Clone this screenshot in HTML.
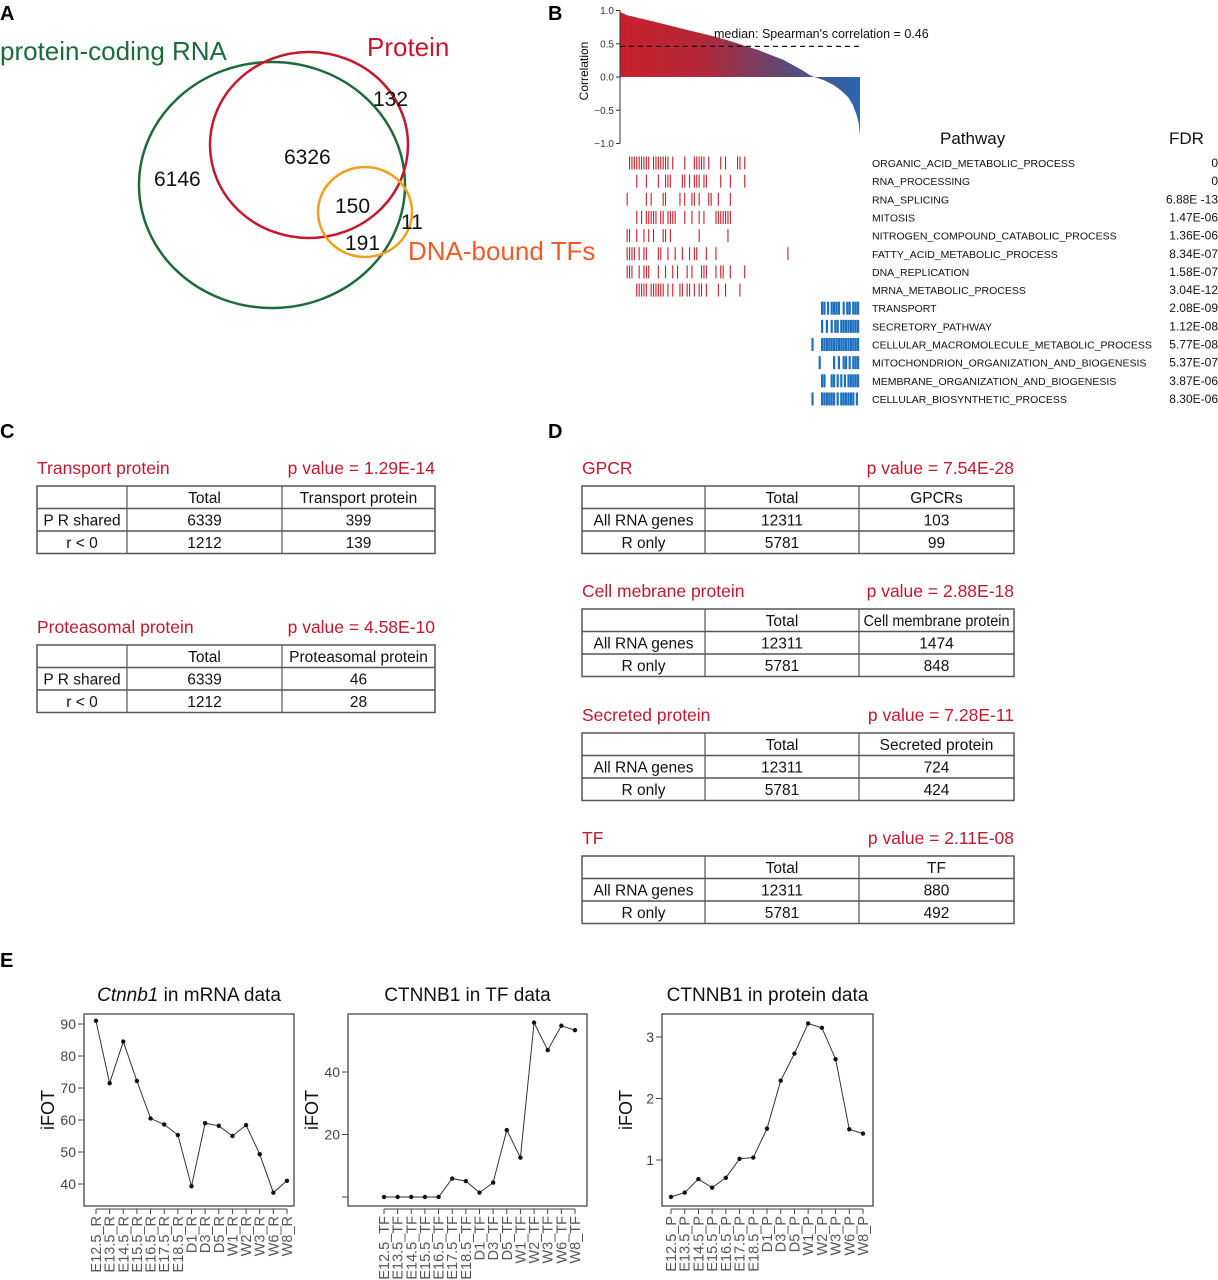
<!DOCTYPE html>
<html><head><meta charset="utf-8">
<style>
body{margin:0;background:#fff;}
svg{display:block;font-family:"Liberation Sans",sans-serif;}
</style></head>
<body>
<svg id="fig" width="1218" height="1280" viewBox="0 0 1218 1280" xmlns="http://www.w3.org/2000/svg">
<defs>
<linearGradient id="corrGrad" x1="620" y1="0" x2="860" y2="0" gradientUnits="userSpaceOnUse">
<stop offset="0" stop-color="#c8202a"/><stop offset="0.35" stop-color="#b2283a"/><stop offset="0.7" stop-color="#5a4a78"/><stop offset="1" stop-color="#2a66b0"/>
</linearGradient>
</defs>
<g font-weight="bold" font-size="20" fill="#000">
<text x="0" y="20">A</text>
<text x="548" y="20">B</text>
<text x="0" y="438">C</text>
<text x="548" y="438">D</text>
<text x="0" y="967">E</text>
</g>
<g fill="none" stroke-width="2.5">
<ellipse cx="272" cy="185" rx="133" ry="123" stroke="#1c6b3a"/>
<ellipse cx="309" cy="145" rx="99" ry="93" stroke="#c4182c"/>
<ellipse cx="365" cy="212" rx="47" ry="45" stroke="#eea01e"/>
</g>
<g font-size="26">
<text x="0" y="60" fill="#1c6b3a">protein-coding RNA</text>
<text x="367" y="56" fill="#c4182c">Protein</text>
<text x="408" y="260" fill="#ef5a28">DNA-bound TFs</text>
</g>
<g font-size="21" fill="#111">
<text x="373" y="106">132</text>
<text x="284" y="164">6326</text>
<text x="154" y="186">6146</text>
<text x="335" y="213">150</text>
<text x="345" y="250">191</text>
<text x="401" y="229">11</text>
</g>
<g id="panelB"></g>
<g id="tables"></g>
<g id="panelE"></g>
</svg>
<script>
const NS="http://www.w3.org/2000/svg";
function mk(parent,tag,attrs,text){const e=document.createElementNS(NS,tag);for(const k in attrs)e.setAttribute(k,attrs[k]);if(text!==undefined)e.textContent=text;parent.appendChild(e);return e;}

// ---------- Panel B ----------
const corrSorted=[0.98,0.93,0.86,0.78,0.7,0.62,0.55,0.47,0.4,0.33,0.26,0.18,0.1,0.03,0,-0.05,-0.12,-0.2,-0.3,-0.42,-0.56,-0.7,-0.88];
const corrPos=[0,0.03,0.11,0.2,0.29,0.38,0.45,0.52,0.58,0.63,0.68,0.72,0.76,0.79,0.81,0.85,0.89,0.92,0.95,0.97,0.985,0.995,1];
const pathways=["ORGANIC_ACID_METABOLIC_PROCESS","RNA_PROCESSING","RNA_SPLICING","MITOSIS","NITROGEN_COMPOUND_CATABOLIC_PROCESS","FATTY_ACID_METABOLIC_PROCESS","DNA_REPLICATION","MRNA_METABOLIC_PROCESS","TRANSPORT","SECRETORY_PATHWAY","CELLULAR_MACROMOLECULE_METABOLIC_PROCESS","MITOCHONDRION_ORGANIZATION_AND_BIOGENESIS","MEMBRANE_ORGANIZATION_AND_BIOGENESIS","CELLULAR_BIOSYNTHETIC_PROCESS"];
const fdrs=["0","0","6.88E -13","1.47E-06","1.36E-06","8.34E-07","1.58E-07","3.04E-12","2.08E-09","1.12E-08","5.77E-08","5.37E-07","3.87E-06","8.30E-06"];
const barcodeRanks=[
[0.04,0.05,0.06,0.07,0.08,0.09,0.1,0.11,0.12,0.14,0.15,0.16,0.17,0.18,0.19,0.2,0.22,0.27,0.31,0.32,0.33,0.34,0.35,0.37,0.42,0.44,0.49,0.5,0.52],
[0.07,0.11,0.16,0.19,0.2,0.21,0.26,0.27,0.29,0.31,0.32,0.33,0.35,0.36,0.42,0.46,0.52],
[0.03,0.11,0.13,0.18,0.19,0.25,0.27,0.3,0.31,0.33,0.37,0.38,0.41,0.46],
[0.07,0.09,0.11,0.12,0.13,0.14,0.15,0.17,0.18,0.2,0.21,0.22,0.23,0.27,0.3,0.33,0.35,0.4,0.41,0.42,0.43,0.44,0.45,0.46],
[0.03,0.04,0.07,0.1,0.12,0.14,0.18,0.19,0.21,0.33,0.45],
[0.03,0.04,0.05,0.06,0.08,0.1,0.11,0.16,0.17,0.2,0.23,0.26,0.29,0.31,0.32,0.36,0.4,0.7],
[0.03,0.04,0.05,0.08,0.1,0.11,0.12,0.16,0.19,0.22,0.24,0.28,0.3,0.34,0.35,0.36,0.4,0.42,0.43,0.46,0.52],
[0.07,0.08,0.09,0.1,0.11,0.13,0.14,0.15,0.16,0.17,0.18,0.2,0.22,0.25,0.26,0.28,0.29,0.31,0.33,0.34,0.36,0.41,0.44,0.5],
[0.84,0.85,0.865,0.88,0.89,0.9,0.91,0.93,0.945,0.955,0.97,0.98,0.99],
[0.84,0.86,0.88,0.895,0.905,0.92,0.93,0.94,0.95,0.96,0.97,0.98,0.99],
[0.8,0.84,0.85,0.86,0.87,0.88,0.89,0.9,0.91,0.92,0.93,0.94,0.95,0.96,0.97,0.98,0.99],
[0.83,0.89,0.91,0.93,0.94,0.955,0.97,0.98,0.99],
[0.84,0.85,0.88,0.89,0.905,0.92,0.935,0.95,0.96,0.97,0.98,0.99],
[0.8,0.84,0.85,0.86,0.87,0.88,0.89,0.905,0.92,0.93,0.94,0.95,0.96,0.97,0.985]
];
(function(){
const g=document.getElementById('panelB');
const x0=620,x1=860,yC=v=>77-v*66.5;
const xR=r=>x0+r*(x1-x0);
let d=`M${x0},${yC(0)}`;
corrSorted.forEach((v,i)=>{d+=` L${xR(corrPos[i]).toFixed(1)},${yC(v).toFixed(1)}`;});
d+=` L${x1},${yC(0)} Z`;
const area=mk(g,'path',{d:d,fill:'url(#corrGrad)'});


mk(g,'line',{x1:x0,y1:yC(1),x2:x0,y2:yC(-1),stroke:'#333','stroke-width':1});
[1,0.5,0,-0.5,-1].forEach(v=>{
 mk(g,'line',{x1:x0-4,y1:yC(v),x2:x0,y2:yC(v),stroke:'#333'});
 const t=mk(g,'text',{x:x0-6,y:yC(v)+3.5,'font-size':10,'text-anchor':'end',fill:'#333'},v.toFixed(1).replace('-','\u2212'));
 
 
});
const yl=mk(g,'text',{x:0,y:0,'font-size':12,'text-anchor':'middle',transform:`translate(588,${yC(0)-6}) rotate(-90)`},'Correlation');


const med=mk(g,'line',{x1:x0,y1:yC(0.46),x2:x1,y2:yC(0.46),stroke:'#111','stroke-dasharray':'5,4','stroke-width':1.2});


mk(g,'text',{x:714,y:38,'font-size':12.5,fill:'#111'},"median: Spearman's correlation = 0.46");
mk(g,'text',{x:940,y:144,'font-size':17,fill:'#111'},'Pathway');
mk(g,'text',{x:1169,y:144,'font-size':17,fill:'#111'},'FDR');
pathways.forEach((p,i)=>{
 const y=163+i*18.15;
 const t=mk(g,'text',{x:872,y:y+4,'font-size':10.5,fill:'#111'},p);
 
 
 const f=mk(g,'text',{x:1218,y:y+4,'font-size':12,fill:'#111','text-anchor':'end'},fdrs[i]);
 
 
 const col=i<8?'#c8202a':'#1f6fbf';
 barcodeRanks[i].forEach(r=>{
  const b=mk(g,'rect',{x:xR(r)-0.6,y:y-6.5,width:i<8?1.1:2.2,height:13,fill:col});
  
  
 });
});
})();

// ---------- Tables ----------
const tableSpecs=[
 {title:'Transport protein',p:'p value = 1.29E-14',x:37,w:398,c1:127,c2:282,top:486,rows:[['','Total','Transport protein'],['P R shared','6339','399'],['r < 0','1212','139']]},
 {title:'Proteasomal protein',p:'p value = 4.58E-10',x:37,w:398,c1:127,c2:282,top:645,rows:[['','Total','Proteasomal protein'],['P R shared','6339','46'],['r < 0','1212','28']]},
 {title:'GPCR',p:'p value = 7.54E-28',x:582,w:432,c1:705,c2:859,top:486,rows:[['','Total','GPCRs'],['All RNA genes','12311','103'],['R only','5781','99']]},
 {title:'Cell mebrane protein',p:'p value = 2.88E-18',x:582,w:432,c1:705,c2:859,top:609,rows:[['','Total','Cell membrane protein'],['All RNA genes','12311','1474'],['R only','5781','848']]},
 {title:'Secreted protein',p:'p value = 7.28E-11',x:582,w:432,c1:705,c2:859,top:733,rows:[['','Total','Secreted protein'],['All RNA genes','12311','724'],['R only','5781','424']]},
 {title:'TF',p:'p value = 2.11E-08',x:582,w:432,c1:705,c2:859,top:856,rows:[['','Total','TF'],['All RNA genes','12311','880'],['R only','5781','492']]}
];
(function(){
const g=document.getElementById('tables');
tableSpecs.forEach(s=>{
 const tg=mk(g,'g',{});
 
 
 const rh=22.5,x2=s.x+s.w;
 mk(tg,'text',{x:s.x,y:s.top-12,'font-size':17.5,fill:'#c4182c'},s.title);
 mk(tg,'text',{x:x2,y:s.top-12,'font-size':17.5,fill:'#c4182c','text-anchor':'end'},s.p);
 mk(tg,'rect',{x:s.x,y:s.top,width:s.w,height:rh*3,fill:'none',stroke:'#555','stroke-width':1.5});
 [1,2].forEach(k=>mk(tg,'line',{x1:s.x,y1:s.top+rh*k,x2:x2,y2:s.top+rh*k,stroke:'#555','stroke-width':1.5}));
 [s.c1,s.c2].forEach(c=>mk(tg,'line',{x1:c,y1:s.top,x2:c,y2:s.top+rh*3,stroke:'#555','stroke-width':1.2}));
 const cx=[(s.x+s.c1)/2,(s.c1+s.c2)/2,(s.c2+x2)/2];
 s.rows.forEach((r,ri)=>r.forEach((c,ci)=>{
  if(c){const a={x:cx[ci],y:s.top+rh*ri+17,'font-size':15.5,fill:'#111','text-anchor':'middle'};
   if(c.length>19){a['textLength']=146;a['lengthAdjust']='spacingAndGlyphs';}
   mk(tg,'text',a,c);}
 }));
});
})();

// ---------- Panel E ----------
const mrnaLabels=['E12.5_R','E13.5_R','E14.5_R','E15.5_R','E16.5_R','E17.5_R','E18.5_R','D1_R','D3_R','D5_R','W1_R','W2_R','W3_R','W6_R','W8_R'];
const tfLabels=['E12.5_TF','E13.5_TF','E14.5_TF','E15.5_TF','E16.5_TF','E17.5_TF','E18.5_TF','D1_TF','D3_TF','D5_TF','W1_TF','W2_TF','W3_TF','W6_TF','W8_TF'];
const protLabels=['E12.5_P','E13.5_P','E14.5_P','E15.5_P','E16.5_P','E17.5_P','E18.5_P','D1_P','D3_P','D5_P','W1_P','W2_P','W3_P','W6_P','W8_P'];
const mrnaValues=[91,71.5,84.5,72.2,60.5,58.6,55.3,39.3,59,58.2,55,58.4,49.3,37.3,41];
const tfValues=[0,0,0,0,0,5.9,5.1,1.4,4.6,21.4,12.6,55.8,47,54.8,53.4];
const protValues=[0.4,0.47,0.69,0.55,0.71,1.02,1.04,1.51,2.29,2.73,3.22,3.15,2.64,1.5,1.43];
const mrnaTicks=[40,50,60,70,80,90];
const tfTicks=[0,20,40];
const tfTickLabels=['','20','40'];
const protTicks=[1,2,3];
(function(){
const g=document.getElementById('panelE');
const charts=[
 {name:'mrna-chart',title:'mRNA',bx:84,bw:210,px0:96,px1:287,vals:mrnaValues,labels:mrnaLabels,ticks:mrnaTicks,tl:mrnaTicks.map(String),v0:40,y0:1184,v1:90,y1:1024},
 {name:'tf-chart',title:'CTNNB1 in TF data',bx:348,bw:239,px0:384,px1:575,vals:tfValues,labels:tfLabels,ticks:tfTicks,tl:tfTickLabels,v0:0,y0:1197,v1:40,y1:1072},
 {name:'protein-chart',title:'CTNNB1 in protein data',bx:662,bw:211,px0:671,px1:863,vals:protValues,labels:protLabels,ticks:protTicks,tl:protTicks.map(String),v0:1,y0:1160,v1:3,y1:1037}
];
charts.forEach(c=>{
 const cg=mk(g,'g',{});
 
 
 const top=1014,bot=1206;
 const ys=v=>c.y0+(v-c.v0)*(c.y1-c.y0)/(c.v1-c.v0);
 const xs=i=>c.px0+i*(c.px1-c.px0)/(c.vals.length-1);
 mk(cg,'rect',{x:c.bx,y:top,width:c.bw,height:bot-top,fill:'none',stroke:'#444','stroke-width':1.3});
 const tcx=c.bx+c.bw/2;
 if(c.title==='mRNA'){
  const t=mk(cg,'text',{x:tcx,y:1001,'font-size':19,'text-anchor':'middle',fill:'#111'});
  mk(t,'tspan',{'font-style':'italic'},'Ctnnb1');
  mk(t,'tspan',{},' in mRNA data');
 } else mk(cg,'text',{x:tcx,y:1001,'font-size':19,'text-anchor':'middle',fill:'#111'},c.title);
 mk(cg,'text',{x:0,y:0,'font-size':18,'text-anchor':'middle',fill:'#111',transform:`translate(${c.bx-30},${(top+bot)/2}) rotate(-90)`},'iFOT');
 c.ticks.forEach((v,i)=>{
  mk(cg,'line',{x1:c.bx-6,y1:ys(v),x2:c.bx,y2:ys(v),stroke:'#444'});
  if(c.tl[i]){const t=mk(cg,'text',{x:c.bx-8,y:ys(v)+5,'font-size':14,'text-anchor':'end',fill:'#444'},c.tl[i]);
  
  }
 });
 mk(cg,'line',{x1:c.px0,y1:bot+3,x2:c.px1,y2:bot+3,stroke:'#444'});
 c.labels.forEach((l,i)=>{
  mk(cg,'line',{x1:xs(i),y1:bot+3,x2:xs(i),y2:bot+8,stroke:'#444'});
  const t=mk(cg,'text',{x:0,y:0,'font-size':14.5,'text-anchor':'end',fill:'#555',transform:`translate(${xs(i)+5},${bot+10}) rotate(-90)`},l);
  
  
 });
 const pts=c.vals.map((v,i)=>`${xs(i).toFixed(1)},${ys(v).toFixed(1)}`).join(' ');
 const ln=mk(cg,'polyline',{points:pts,fill:'none',stroke:'#333','stroke-width':1});
 
 
 c.vals.forEach((v,i)=>{
  const p=mk(cg,'circle',{cx:xs(i),cy:ys(v),r:2.2,fill:'#111'});
  
  
 });
});
})();
</script>
</body></html>
